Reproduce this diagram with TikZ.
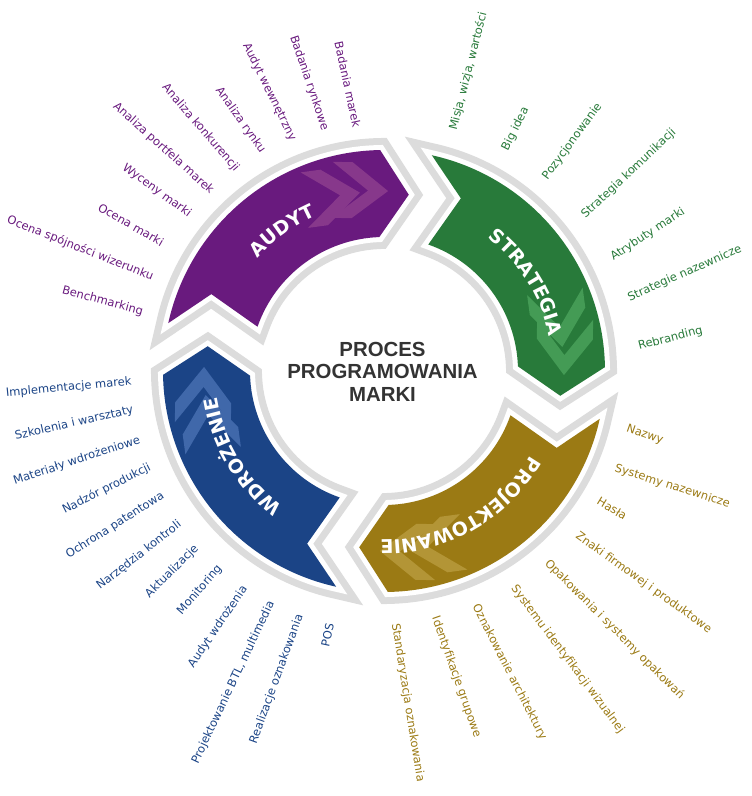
\documentclass[tikz,border=0pt]{standalone}
\usepackage{fontspec}
\setmainfont{DejaVu Sans}
\newfontfamily\centerfont{Liberation Sans}
\usetikzlibrary{decorations.text}
\definecolor{ringgray}{HTML}{DCDCDC}
\definecolor{titlegray}{HTML}{333333}
\definecolor{audyt}{HTML}{691A7E}
\definecolor{audytlt}{HTML}{87388B}
\definecolor{strat}{HTML}{287A3A}
\definecolor{stratlt}{HTML}{449B55}
\definecolor{proj}{HTML}{9B7A14}
\definecolor{projlt}{HTML}{B39536}
\definecolor{wdroz}{HTML}{1B4486}
\definecolor{wdrozlt}{HTML}{4068AA}
\tikzset{
  ring/.style={draw=ringgray,line width=24pt,line join=miter},
  gap/.style={draw=white,line width=10pt,line join=miter},
  lbl/.style={font=\fontsize{11.5}{12}\selectfont,inner sep=0pt},
  bandtext/.style={decorate,decoration={text along path,text align=center,text color=white,text={|\bandfont|#1}}}
}
\newcommand\bandfont{\bfseries\fontsize{19}{19}\selectfont}
% one band of the ring (AUDYT position), the others are rotated copies
\newcommand\bandpath{(91:221) arc[start angle=91,end angle=167.5,radius=221] -- (156:189) -- (160.7:134) arc[start angle=160.7,end angle=92,radius=134] -- (82:178) -- cycle}
\begin{document}
\begin{tikzpicture}[x=1pt,y=1pt]
\useasboundingbox (-384,-425) rectangle (368,371);
\foreach \k/\col/\lt in {0/audyt/audytlt,1/strat/stratlt,2/proj/projlt,3/wdroz/wdrozlt}{
  \begin{scope}[rotate=-90*\k]
    \path[ring] \bandpath;
    \path[gap] \bandpath;
    \fill[\col] \bandpath;
    \foreach \a in {88.7,97.7}
      \fill[\lt,shift={(\a:180)},rotate=\a-90] (0,0) -- (-36,28) -- (-56,28) -- (-20,0) -- (-56,-28) -- (-36,-28) -- cycle;
  \end{scope}
}
% band names
\path[bandtext=AUDYT] (176:169) arc[start angle=176,end angle=76,radius=169];
\path[bandtext=STRATEGIA] (82:169) arc[start angle=82,end angle=-18,radius=169];
\path[bandtext=PROJEKTOWANIE] (-10.7:169) arc[start angle=-10.7,end angle=-110.7,radius=169];
\path[bandtext=WDROŻENIE] (261:169) arc[start angle=261,end angle=161,radius=169];
\node[align=center,text=titlegray,font=\centerfont\bfseries\fontsize{20.4}{22.5}\selectfont] (title) at (-1.5,-0.7) {PROCES\\PROGRAMOWANIA\\MARKI};
% labels
\foreach \x/\y/\r/\t [count=\i] in {-27/244/-77.8/Badania marek,-59/241/-71.3/Badania rynkowe,-91/231/-63.8/Audyt wewnętrzny,-121/219/-54.6/Analiza rynku,-147/201/-49.1/Analiza konkurencji,-172/179/-41.9/Analiza portfela marek,-194/156/-36.2/Wyceny marki,-221/128/-29.9/Ocena marki,-231/94/-21.5/Ocena spójności wizerunku,-241/59/-14.9/Benchmarking}
  \node[lbl,text=audyt,anchor=east,rotate=\r] (au\i) at (\x,\y) {\t};
\foreach \x/\y/\r/\t [count=\i] in {69.3/241/75.6/{Misja, wizja, wartości},121/221/63.4/Big idea,161/192.7/53.5/Pozycjonowanie,199.3/154.3/43.4/Strategia komunikacji,227.7/112.7/33.4/Atrybuty marki,244.3/72.7/23.8/Strategie nazewnicze,254.3/24.3/14.4/Rebranding}
  \node[lbl,text=strat,anchor=west,rotate=\r] (st\i) at (\x,\y) {\t};
\foreach \x/\y/\r/\t [count=\i] in {242.7/-57.3/-19.2/Nazwy,231/-97.3/-17.7/Systemy nazewnicze,214.3/-129/-31.4/Hasła,192.7/-164/-35.6/Znaki firmowej i produktowe,162.7/-190.7/-45/Opakowania i systemy opakowań,129.3/-215.7/-53.2/Systemu identyfikacji wizualnej,91/-234/-62.9/Oznakowanie architektury,51/-245.7/-70.6/Identyfikacje grupowe,11/-252.3/-80.9/Standaryzacja oznakowania}
  \node[lbl,text=proj,anchor=west,rotate=\r] (pr\i) at (\x,\y) {\t};
\foreach \x/\y/\r/\t [count=\i] in {-252.3/-10.7/5.4/Implementacje marek,-250.7/-39/12.7/Szkolenia i warsztaty,-244/-69/18.2/Materiały wdrożeniowe,-234/-95.7/27/Nadzór produkcji,-220.7/-124/32.3/Ochrona patentowa,-204/-152.3/38.1/Narzędzia kontroli,-187.3/-175.7/45/Aktualizacje,-164/-195.7/49.1/Monitoring,-139/-215.7/56/Audyt wdrożenia,-112.3/-230.7/64.6/{Projektowanie BTL, multimedia},-84/-244/70/Realizacje oznakowania,-54/-252.3/78/POS}
  \node[lbl,text=wdroz,anchor=east,rotate=\r] (wd\i) at (\x,\y) {\t};
\end{tikzpicture}
\end{document}
